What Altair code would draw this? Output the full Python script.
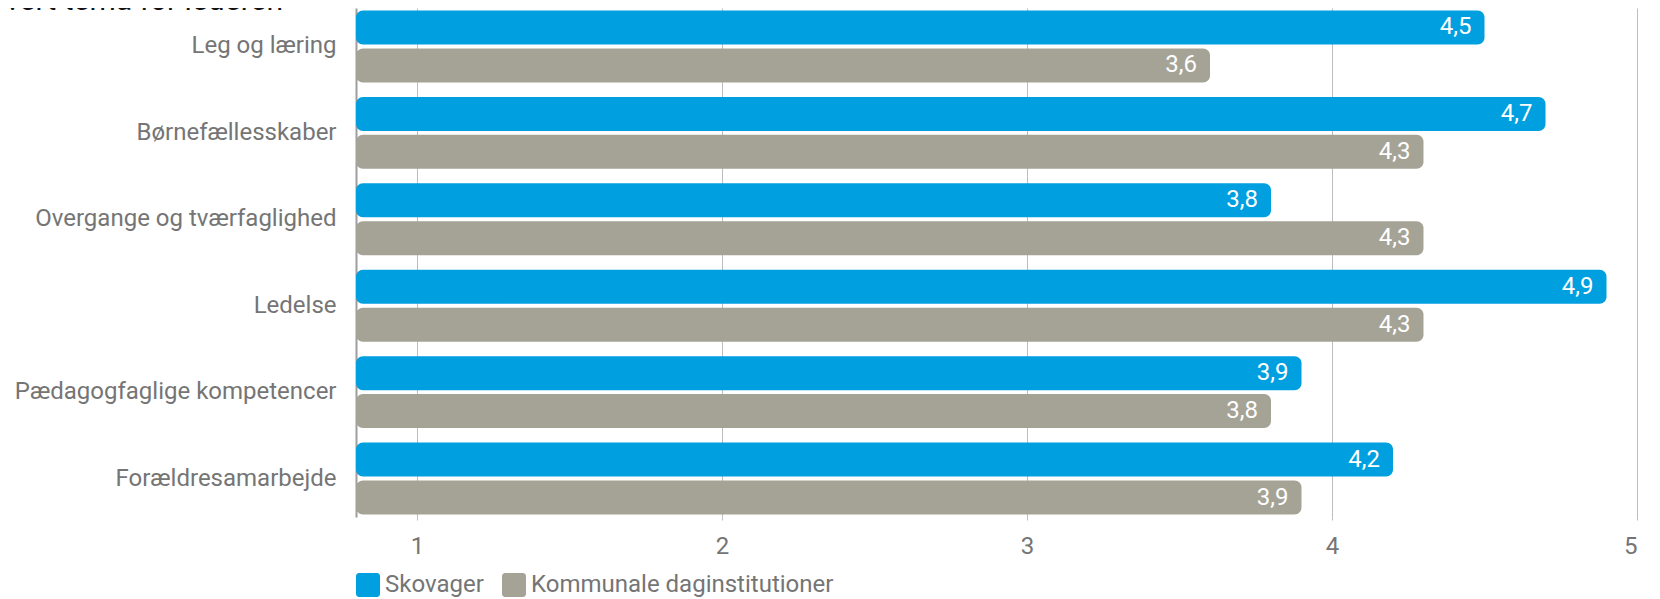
import altair as alt
import pandas as pd

categories = ["Leg og læring", "Børnefællesskaber", "Overgange og tværfaglighed",
              "Ledelse", "Pædagogfaglige kompetencer", "Forældresamarbejde"]
series_names = ["Skovager", "Kommunale daginstitutioner"]
skovager = [4.5, 4.7, 3.8, 4.9, 3.9, 4.2]
kommunale = [3.6, 4.3, 4.3, 4.3, 3.8, 3.9]
x_ticks = [1, 2, 3, 4, 5]
colors = ["#009FE0", "#A5A396"]
clipped_title = "Vurdering af hvert tema for lederen"

rows = []
for i, c in enumerate(categories):
    rows.append({"cat": c, "series": series_names[0], "v": skovager[i]})
    rows.append({"cat": c, "series": series_names[1], "v": kommunale[i]})
df = pd.DataFrame(rows)

FONT = "Roboto"
LABEL_COLOR = "#757575"
FS = 24

rounded_square = ("M-0.75,-1H0.75A0.25,0.25 0 0 1 1,-0.75V0.75A0.25,0.25 0 0 1 0.75,1"
                  "H-0.75A0.25,0.25 0 0 1 -1,0.75V-0.75A0.25,0.25 0 0 1 -0.75,-1Z")

y_enc = alt.Y("cat:N", sort=categories,
              scale=alt.Scale(paddingInner=0.168, paddingOuter=0.029),
              axis=alt.Axis(title=None, domain=True, domainColor="#9E9E9E", domainWidth=2,
                            ticks=False, grid=False, labelFont=FONT, labelFontSize=FS,
                            labelColor=LABEL_COLOR, labelPadding=20, labelLimit=600))
yoff_enc = alt.YOffset("series:N", sort=series_names,
                       scale=alt.Scale(paddingInner=0.105, paddingOuter=0))
x_scale = alt.Scale(domain=[0.8, 5], nice=False, zero=False)

base = alt.Chart(df)

bars = base.mark_bar(cornerRadiusEnd=7).encode(
    x=alt.X("v:Q", scale=x_scale,
            axis=alt.Axis(title=None, values=x_ticks, domain=False, grid=True,
                          gridColor="#BDBDBD", gridWidth=1, tickColor="#BDBDBD",
                          tickSize=3, labelFont=FONT, labelFontSize=FS,
                          labelColor=LABEL_COLOR, labelPadding=14, format="d")),
    x2=alt.datum(0.8),
    y=y_enc,
    yOffset=yoff_enc,
    color=alt.Color("series:N", sort=series_names,
                    scale=alt.Scale(domain=series_names, range=colors),
                    legend=alt.Legend(title=None, orient="none", legendX=0, legendY=565,
                                      direction="horizontal", symbolType=rounded_square,
                                      symbolSize=576, symbolStrokeWidth=0, symbolOpacity=1,
                                      labelFont=FONT, labelFontSize=FS, labelColor=LABEL_COLOR,
                                      labelOffset=5, columnPadding=18, padding=0,
                                      labelLimit=600)),
)

labels = base.mark_text(align="right", baseline="middle", dx=-13, font=FONT,
                        fontSize=FS, color="white").transform_calculate(
    lab="replace(format(datum.v, '.1f'), '.', ',')"
).encode(
    x=alt.X("v:Q", scale=x_scale),
    y=alt.Y("cat:N", sort=categories),
    yOffset=alt.YOffset("series:N", sort=series_names),
    text="lab:N",
)

title_df = pd.DataFrame({"t": [clipped_title]})
title_sliver = alt.Chart(title_df).mark_text(
    align="right", baseline="alphabetic", font=FONT, fontSize=30, color="#111111"
).encode(x=alt.value(-73), y=alt.value(2), text="t:N")

chart = alt.layer(bars, labels, title_sliver).properties(
    width=1281, height=509,
    autosize=alt.AutoSizeParams(type="none"),
    padding={"left": 348, "top": 0, "right": 10, "bottom": 86},
).configure_view(stroke=None)

chart.save("out.html", embed_options={"renderer": "svg", "actions": False})
